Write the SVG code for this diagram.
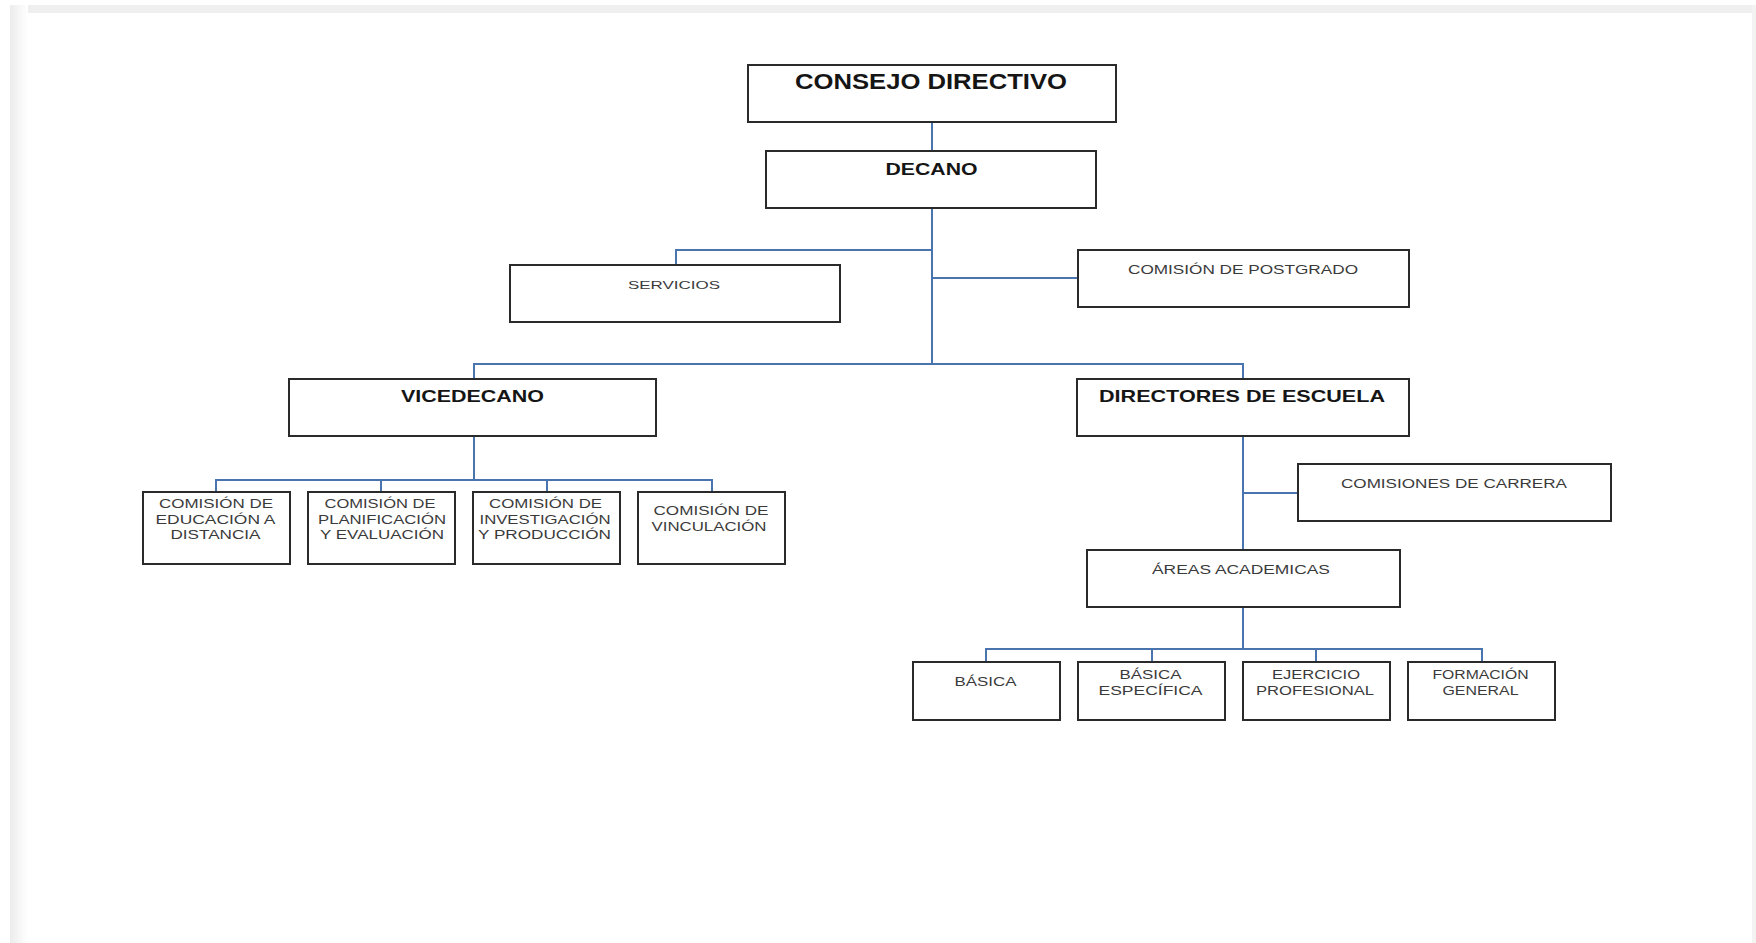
<svg xmlns="http://www.w3.org/2000/svg" width="1756" height="943" viewBox="0 0 1756 943">
<style>
.box{fill:#ffffff;stroke:#2a2a2a;stroke-width:2}
.conn{fill:none;stroke:#4a74ad;stroke-width:2}
.b{font-family:"Liberation Sans",Arial,sans-serif;font-weight:bold;fill:#151515;text-anchor:middle}
.r{font-family:"Liberation Sans",Arial,sans-serif;fill:#3a3a3a;text-anchor:middle}
</style>
<defs>
<linearGradient id="lg" x1="0" y1="0" x2="1" y2="0">
<stop offset="0" stop-color="#ececec"/>
<stop offset="1" stop-color="#ffffff"/>
</linearGradient>
</defs>
<rect x="0" y="0" width="1756" height="943" fill="#ffffff"/>
<rect x="10" y="5" width="1746" height="8" fill="#efefef"/>
<rect x="10" y="5" width="18" height="938" fill="url(#lg)"/>
<rect x="1752" y="5" width="4" height="938" fill="#f3f3f3"/>

<g id="connectors">
<path class="conn" d="M932,122 V151"/>
<path class="conn" d="M932,208 V364"/>
<path class="conn" d="M932,250 H676 V265"/>
<path class="conn" d="M932,278 H1078"/>
<path class="conn" d="M474,379 V364 H1243 V379"/>
<path class="conn" d="M474,436 V480"/>
<path class="conn" d="M216,492 V480 H712 V492"/>
<path class="conn" d="M381,480 V492"/>
<path class="conn" d="M547,480 V492"/>
<path class="conn" d="M1243,436 V550"/>
<path class="conn" d="M1243,493 H1298"/>
<path class="conn" d="M1243,607 V649"/>
<path class="conn" d="M986,662 V649 H1482 V662"/>
<path class="conn" d="M1152,649 V662"/>
<path class="conn" d="M1316,649 V662"/>
</g>

<g id="consejo">
<rect class="box" x="748" y="65" width="368" height="57"/>
<text class="b" x="931" y="89" font-size="22" textLength="272" lengthAdjust="spacingAndGlyphs">CONSEJO DIRECTIVO</text>
</g>
<g id="decano">
<rect class="box" x="766" y="151" width="330" height="57"/>
<text class="b" x="931.5" y="175" font-size="17" textLength="92" lengthAdjust="spacingAndGlyphs">DECANO</text>
</g>
<g id="servicios">
<rect class="box" x="510" y="265" width="330" height="57"/>
<text class="r" x="674" y="289" font-size="11.5" textLength="92" lengthAdjust="spacingAndGlyphs">SERVICIOS</text>
</g>
<g id="postgrado">
<rect class="box" x="1078" y="250" width="331" height="57"/>
<text class="r" x="1243" y="274" font-size="12" textLength="230" lengthAdjust="spacingAndGlyphs">COMISIÓN DE POSTGRADO</text>
</g>
<g id="vicedecano">
<rect class="box" x="289" y="379" width="367" height="57"/>
<text class="b" x="472.5" y="402" font-size="16.5" textLength="143" lengthAdjust="spacingAndGlyphs">VICEDECANO</text>
</g>
<g id="directores">
<rect class="box" x="1077" y="379" width="332" height="57"/>
<text class="b" x="1242" y="402" font-size="16.5" textLength="286" lengthAdjust="spacingAndGlyphs">DIRECTORES DE ESCUELA</text>
</g>
<g id="comisiones-carrera">
<rect class="box" x="1298" y="464" width="313" height="57"/>
<text class="r" x="1454" y="488" font-size="12.5" textLength="226" lengthAdjust="spacingAndGlyphs">COMISIONES DE CARRERA</text>
</g>
<g id="areas">
<rect class="box" x="1087" y="550" width="313" height="57"/>
<text class="r" x="1241" y="574" font-size="12.5" textLength="178" lengthAdjust="spacingAndGlyphs">ÁREAS ACADEMICAS</text>
</g>

<g id="com-educacion">
<rect class="box" x="143" y="492" width="147" height="72"/>
<text class="r" x="216" y="508" font-size="12.5" textLength="114" lengthAdjust="spacingAndGlyphs">COMISIÓN DE</text>
<text class="r" x="215.5" y="523.5" font-size="12.5" textLength="120" lengthAdjust="spacingAndGlyphs">EDUCACIÓN A</text>
<text class="r" x="215.5" y="539" font-size="12.5" textLength="90" lengthAdjust="spacingAndGlyphs">DISTANCIA</text>
</g>
<g id="com-planificacion">
<rect class="box" x="308" y="492" width="147" height="72"/>
<text class="r" x="380" y="508" font-size="12.5" textLength="111" lengthAdjust="spacingAndGlyphs">COMISIÓN DE</text>
<text class="r" x="382" y="523.5" font-size="12.5" textLength="128" lengthAdjust="spacingAndGlyphs">PLANIFICACIÓN</text>
<text class="r" x="382" y="539" font-size="12.5" textLength="124" lengthAdjust="spacingAndGlyphs">Y EVALUACIÓN</text>
</g>
<g id="com-investigacion">
<rect class="box" x="473" y="492" width="147" height="72"/>
<text class="r" x="545.5" y="508" font-size="12.5" textLength="113" lengthAdjust="spacingAndGlyphs">COMISIÓN DE</text>
<text class="r" x="545" y="523.5" font-size="12.5" textLength="131" lengthAdjust="spacingAndGlyphs">INVESTIGACIÓN</text>
<text class="r" x="544.5" y="539" font-size="12.5" textLength="133" lengthAdjust="spacingAndGlyphs">Y PRODUCCIÓN</text>
</g>
<g id="com-vinculacion">
<rect class="box" x="638" y="492" width="147" height="72"/>
<text class="r" x="711" y="515" font-size="12.5" textLength="115" lengthAdjust="spacingAndGlyphs">COMISIÓN DE</text>
<text class="r" x="709" y="531" font-size="12.5" textLength="115" lengthAdjust="spacingAndGlyphs">VINCULACIÓN</text>
</g>

<g id="basica">
<rect class="box" x="913" y="662" width="147" height="58"/>
<text class="r" x="985.5" y="686" font-size="12.5" textLength="62" lengthAdjust="spacingAndGlyphs">BÁSICA</text>
</g>
<g id="basica-especifica">
<rect class="box" x="1078" y="662" width="147" height="58"/>
<text class="r" x="1150.5" y="678.5" font-size="12.5" textLength="62" lengthAdjust="spacingAndGlyphs">BÁSICA</text>
<text class="r" x="1150.5" y="694.5" font-size="12.5" textLength="104" lengthAdjust="spacingAndGlyphs">ESPECÍFICA</text>
</g>
<g id="ejercicio">
<rect class="box" x="1243" y="662" width="147" height="58"/>
<text class="r" x="1316" y="678.5" font-size="12.5" textLength="88" lengthAdjust="spacingAndGlyphs">EJERCICIO</text>
<text class="r" x="1315" y="694.5" font-size="12.5" textLength="118" lengthAdjust="spacingAndGlyphs">PROFESIONAL</text>
</g>
<g id="formacion">
<rect class="box" x="1408" y="662" width="147" height="58"/>
<text class="r" x="1480.5" y="678.5" font-size="12.5" textLength="96" lengthAdjust="spacingAndGlyphs">FORMACIÓN</text>
<text class="r" x="1480.5" y="694.5" font-size="12.5" textLength="76" lengthAdjust="spacingAndGlyphs">GENERAL</text>
</g>
</svg>
